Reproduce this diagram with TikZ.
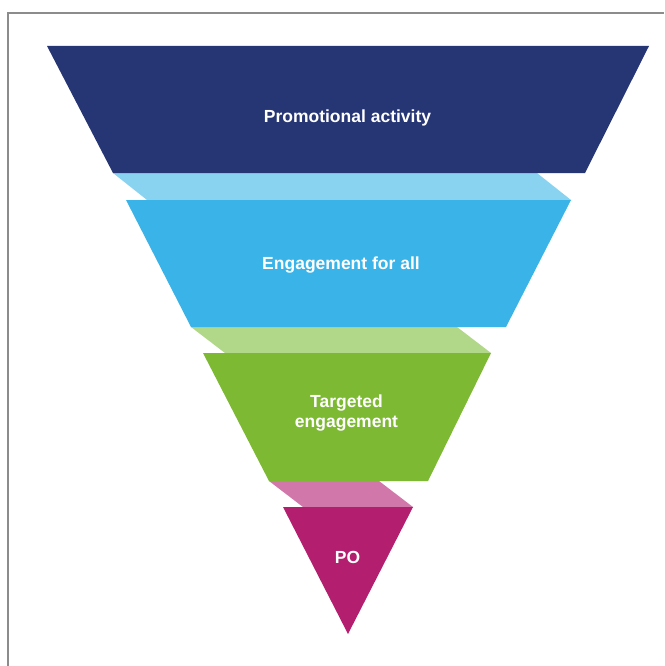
\documentclass[tikz,border=0pt]{standalone}
\usepackage{fontspec}
\setmainfont{Liberation Sans}
\definecolor{frameline}{HTML}{8C8C8C}
\definecolor{navy}     {HTML}{263574}
\definecolor{skyband}  {HTML}{89D3F1}
\definecolor{sky}      {HTML}{3AB4E8}
\definecolor{limeband} {HTML}{B1D789}
\definecolor{lime}     {HTML}{7DB932}
\definecolor{plumband} {HTML}{D277AA}
\definecolor{plum}     {HTML}{B41E6E}
\begin{document}
\begin{tikzpicture}[x=1pt,y=-1pt,
    stagetext/.style={text=white,font=\bfseries\fontsize{17.5}{20}\selectfont,align=center,inner sep=0pt}]
      \useasboundingbox (0,0) rectangle (664,666);
      \draw[frameline,line width=1.5pt] (8,666) -- (8,13) -- (664,13);
      % connecting bands
      \fill[skyband]  (113,173) -- (537,173) -- (571,200) -- (147,200) -- cycle;
      \fill[limeband] (191,327) -- (457,327) -- (491,353) -- (225,353) -- cycle;
      \fill[plumband] (269,481) -- (379,481) -- (413,507) -- (303,507) -- cycle;
      % funnel stages
      \fill[navy] (47,46) -- (649,46) -- (585,173) -- (113,173) -- cycle;
      \fill[sky]  (126,200) -- (571,200) -- (506,327) -- (191,327) -- cycle;
      \fill[lime] (203,353) -- (491,353) -- (428,481) -- (269,481) -- cycle;
      \fill[plum] (283,507) -- (413,507) -- (348,634) -- cycle;
      \node[stagetext,anchor=base] (promo)  at (347.5,122) {Promotional activity};
      \node[stagetext,anchor=base] (engage) at (341,269)   {Engagement for all};
      \node[stagetext] (targeted)           at (346.5,413) {Targeted\\engagement};
      \node[stagetext,anchor=base] (po)     at (347.5,563) {PO};
\end{tikzpicture}
\end{document}
